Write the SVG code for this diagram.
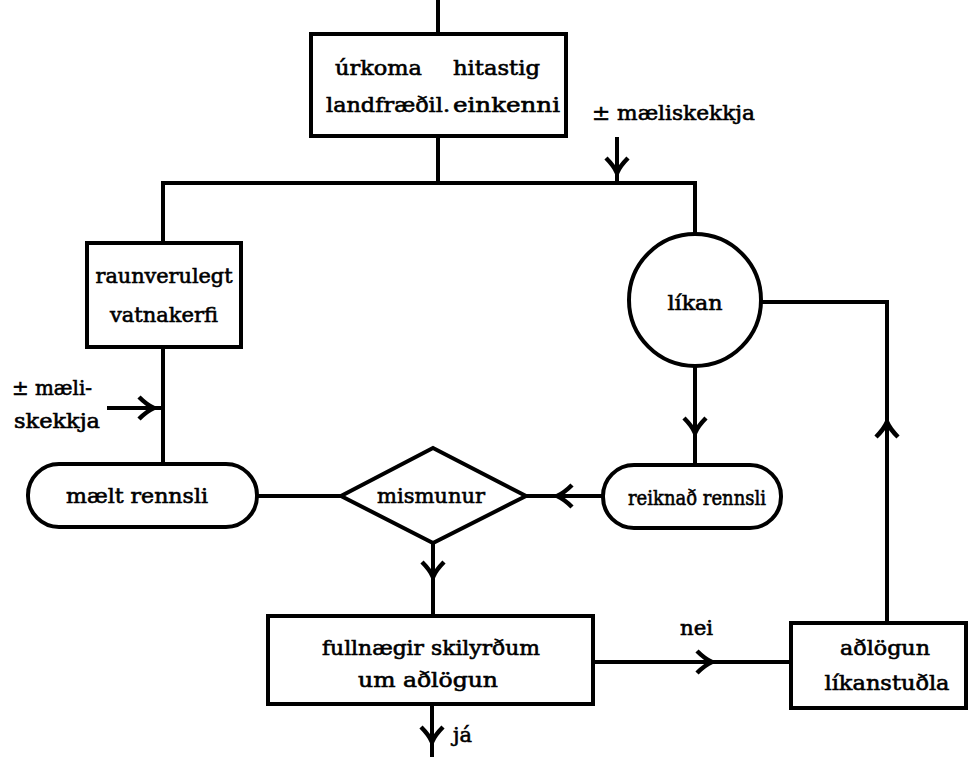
<svg xmlns="http://www.w3.org/2000/svg" width="971" height="757" viewBox="0 0 971 757">
<style>
.shape{fill:#fff;stroke:#000;stroke-width:4}
.conn{fill:none;stroke:#000;stroke-width:4}
.t{font-family:"DejaVu Serif","Liberation Serif",serif;font-size:20px;fill:#000;stroke:#000;stroke-width:0.6}
.c{text-anchor:middle}
</style>
<defs>
<marker id="arr" markerUnits="userSpaceOnUse" markerWidth="40" markerHeight="40" viewBox="-20 -20 40 40" refX="0" refY="0" orient="auto" overflow="visible">
<path d="M-14,-11 Q-6,-3 1,0 Q-6,3 -14,11" fill="none" stroke="#000" stroke-width="4.5"/>
</marker>
</defs>
<rect width="971" height="757" fill="#fff"/>
<g id="connectors">
<path class="conn" d="M438,0 V34"/>
<path class="conn" d="M438,136 V183"/>
<path class="conn" d="M163,243 V183 H695 V234"/>
<path class="conn" d="M617,137 L617,172 L617,183" marker-mid="url(#arr)"/>
<path class="conn" d="M163,347 V463"/>
<path class="conn" d="M107,408 L153,408 L163,408" marker-mid="url(#arr)"/>
<path class="conn" d="M257,496 H341"/>
<path class="conn" d="M603,496 L558,496 L526,496" marker-mid="url(#arr)"/>
<path class="conn" d="M695,366 L695,432 L695,465" marker-mid="url(#arr)"/>
<path class="conn" d="M761,302 H887 V623"/>
<path class="conn" d="M887,440 L887,423 L887,410" marker-mid="url(#arr)"/>
<path class="conn" d="M433,543 L433,576 L433,616" marker-mid="url(#arr)"/>
<path class="conn" d="M593,662 L711,662 L790,662" marker-mid="url(#arr)"/>
<path class="conn" d="M432,704 L432,741 L432,757" marker-mid="url(#arr)"/>
</g>
<g id="inputs">
<rect class="shape" x="311" y="34" width="255" height="102"/>
<text class="t" x="335" y="75" textLength="87" lengthAdjust="spacingAndGlyphs">úrkoma</text>
<text class="t" x="453" y="75" textLength="87" lengthAdjust="spacingAndGlyphs">hitastig</text>
<text class="t" x="326" y="112" textLength="124" lengthAdjust="spacingAndGlyphs">landfræðil.</text>
<text class="t" x="453" y="112" textLength="107" lengthAdjust="spacingAndGlyphs">einkenni</text>
</g>
<g id="error-model">
<text class="t" x="592" y="120" textLength="163" lengthAdjust="spacingAndGlyphs">± mæliskekkja</text>
</g>
<g id="real-system">
<rect class="shape" x="87" y="243" width="154" height="104"/>
<text class="t c" x="164" y="283" textLength="137" lengthAdjust="spacingAndGlyphs">raunverulegt</text>
<text class="t c" x="164" y="322" textLength="108" lengthAdjust="spacingAndGlyphs">vatnakerfi</text>
</g>
<g id="error-measure">
<text class="t" x="12" y="395" textLength="80" lengthAdjust="spacingAndGlyphs">± mæli-</text>
<text class="t" x="14" y="428" textLength="86" lengthAdjust="spacingAndGlyphs">skekkja</text>
</g>
<g id="model">
<circle class="shape" cx="695" cy="300" r="66"/>
<text class="t c" x="695" y="310" textLength="55" lengthAdjust="spacingAndGlyphs">líkan</text>
</g>
<g id="measured">
<rect class="shape" x="28" y="464" width="229" height="63" rx="31" ry="31"/>
<text class="t c" x="137" y="503" textLength="142" lengthAdjust="spacingAndGlyphs">mælt rennsli</text>
</g>
<g id="difference">
<polygon class="shape" points="433,448 526,496 433,543 341,496"/>
<text class="t c" x="431" y="503" textLength="108" lengthAdjust="spacingAndGlyphs">mismunur</text>
</g>
<g id="computed">
<rect class="shape" x="603" y="465" width="178" height="63" rx="31" ry="31"/>
<text class="t c" x="697" y="505" textLength="138" lengthAdjust="spacingAndGlyphs">reiknað rennsli</text>
</g>
<g id="criteria">
<rect class="shape" x="268" y="616" width="325" height="88"/>
<text class="t c" x="431" y="655" textLength="218" lengthAdjust="spacingAndGlyphs">fullnægir skilyrðum</text>
<text class="t c" x="428" y="687" textLength="140" lengthAdjust="spacingAndGlyphs">um aðlögun</text>
</g>
<g id="calibration">
<rect class="shape" x="791" y="623" width="175" height="85"/>
<text class="t c" x="885" y="655" textLength="90" lengthAdjust="spacingAndGlyphs">aðlögun</text>
<text class="t c" x="887" y="690" textLength="125" lengthAdjust="spacingAndGlyphs">líkanstuðla</text>
</g>
<g id="labels">
<text class="t" x="680" y="635" textLength="33" lengthAdjust="spacingAndGlyphs">nei</text>
<text class="t" x="453" y="742" textLength="19" lengthAdjust="spacingAndGlyphs">já</text>
</g>
</svg>
